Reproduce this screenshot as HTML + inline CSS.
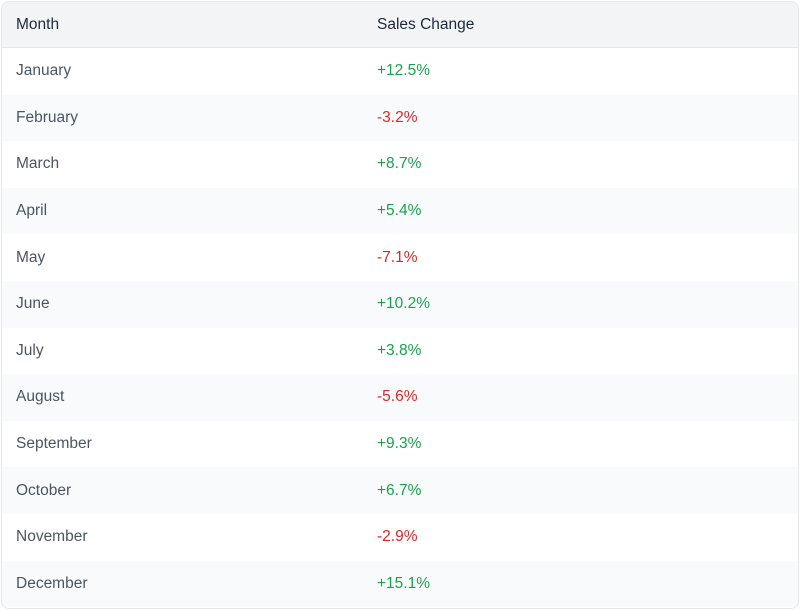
<!DOCTYPE html>
<html><head><style>
body{margin:0;background:#fff;font-family:"Liberation Sans",sans-serif;}
.wrap{position:absolute;left:1px;top:1px;width:796px;height:606px;border:1px solid #e5e7eb;border-radius:8px;overflow:hidden;}
table{border-collapse:collapse;width:100%;font-size:15.5px;}
th{background:#f3f4f6;color:#1f2937;font-weight:normal;text-align:left;height:45px;padding:0 0 0 14px;border-bottom:1px solid #e5e7eb;}
td{height:46.6px;padding:0 0 0 14px;color:#4b5563;background:#fff;}
tr:nth-child(odd) td{background:#f9fafb;}
td:first-child,th:first-child{width:347px;}
.p{color:#16a34a}.n{color:#dc2626}
</style></head><body><div class="wrap"><table>
<tr><th>Month</th><th>Sales Change</th></tr>
<tr><td>January</td><td class="p">+12.5%</td></tr>
<tr><td>February</td><td class="n">-3.2%</td></tr>
<tr><td>March</td><td class="p">+8.7%</td></tr>
<tr><td>April</td><td class="p">+5.4%</td></tr>
<tr><td>May</td><td class="n">-7.1%</td></tr>
<tr><td>June</td><td class="p">+10.2%</td></tr>
<tr><td>July</td><td class="p">+3.8%</td></tr>
<tr><td>August</td><td class="n">-5.6%</td></tr>
<tr><td>September</td><td class="p">+9.3%</td></tr>
<tr><td>October</td><td class="p">+6.7%</td></tr>
<tr><td>November</td><td class="n">-2.9%</td></tr>
<tr><td>December</td><td class="p">+15.1%</td></tr>
</table></div></body></html>
